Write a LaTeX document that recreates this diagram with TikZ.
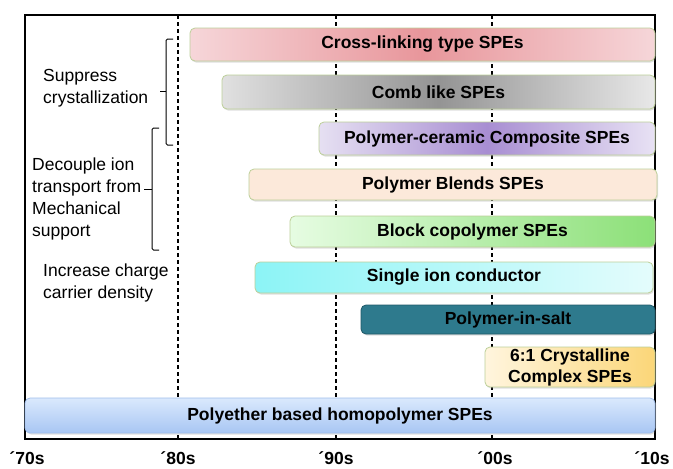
\documentclass[tikz,border=0pt]{standalone}
\usepackage{fontspec}
\setmainfont{Liberation Sans}
\usetikzlibrary{shadows}
\definecolor{barline}{HTML}{BCCF98}
\definecolor{saltfill}{HTML}{2E7A8D}
\definecolor{saltline}{HTML}{1F5868}
\begin{document}
\begin{tikzpicture}[x=1pt, y=-1pt,
  bar/.style={draw=barline, line width=.8pt, rounded corners=5pt, inner sep=0,
    align=center, font=\fontsize{17.5}{21}\selectfont\bfseries,
    drop shadow={shadow xshift=1pt, shadow yshift=-1.5pt, opacity=.25}},
  note/.style={anchor=west, inner sep=0, align=left, font=\fontsize{17.5}{22}\selectfont},
  decade/.style={inner sep=0, font=\fontsize{17.5}{21}\selectfont\bfseries},
  era/.style={line width=1.3pt, dash pattern=on 4pt off 3pt},
  brace/.style={line width=1pt, rounded corners=1.5pt}]
\useasboundingbox (0,0) rectangle (673,469);

% decade lines and frame
\draw[era] (178,15) -- (178,439);
\draw[era] (336,15) -- (336,439);
\draw[era] (492,15) -- (492,439);
\draw[line width=1.2pt] (25,15) rectangle (655,439);

% SPE types
\node[bar, minimum width=465pt, minimum height=33pt, left color={rgb,255:red,246;green,214;blue,217}, right color={rgb,255:red,246;green,214;blue,217}, middle color={rgb,255:red,232;green,150;blue,155}] (xlink) at (422.5,44.5) {Cross-linking type SPEs};
\node[bar, minimum width=433pt, minimum height=34pt, left color=black!12, right color=black!9, middle color=black!42] (comb) at (438.5,92) {Comb like SPEs};
\node[bar, minimum width=336pt, minimum height=33pt, left color={rgb,255:red,230;green,224;blue,242}, right color={rgb,255:red,232;green,226;blue,244}, middle color={rgb,255:red,168;green,142;blue,210}] (ceramic) at (487,138.5) {Polymer-ceramic Composite SPEs};
\node[bar, minimum width=408pt, minimum height=31pt, fill={rgb,255:red,252;green,233;blue,218}] (blend) at (453,184.5) {Polymer Blends SPEs};
\node[bar, minimum width=365pt, minimum height=31pt, left color={rgb,255:red,230;green,252;blue,226}, right color={rgb,255:red,140;green,224;blue,120}] (block) at (472.5,231.5) {Block copolymer SPEs};
\node[bar, minimum width=398pt, minimum height=31pt, left color={rgb,255:red,140;green,244;blue,246}, right color={rgb,255:red,228;green,252;blue,252}] (single) at (454,277.5) {Single ion conductor};
\node[bar, draw=saltline, fill=saltfill, minimum width=294pt, minimum height=29pt] (insalt) at (508,319.5) {Polymer-in-salt};
\node[bar, minimum width=170pt, minimum height=40pt, left color={rgb,255:red,255;green,245;blue,222}, right color={rgb,255:red,251;green,214;blue,120}] (cryst) at (570,367) {6:1 Crystalline\\Complex SPEs};
\node[bar, draw={rgb,255:red,160;green,190;blue,235}, minimum width=630pt, minimum height=35pt, top color={rgb,255:red,218;green,233;blue,253}, bottom color={rgb,255:red,168;green,198;blue,243}] (polyether) at (340,415.5) {Polyether based homopolymer SPEs};

% strategies
\node[note] (suppress) at (43,88) {Suppress\\crystallization};
\node[note] (decouple) at (32,199) {Decouple ion\\transport from\\Mechanical\\support};
\node[note] (increase) at (43,283) {Increase charge\\carrier density};

\draw[brace] (173,39) -- (166,39) -- (166,145) -- (173,145);
\draw[brace] (166,91) -- (160,91);
\draw[brace] (159,128) -- (152,128) -- (152,250) -- (159,250);
\draw[brace] (152,189) -- (144,189);

% time axis
\node[decade] (d70) at (27,458) {´70s};
\node[decade] (d80) at (178,458) {´80s};
\node[decade] (d90) at (336,458) {´90s};
\node[decade] (d00) at (495,458) {´00s};
\node[decade] (d10) at (652,458) {´10s};

\end{tikzpicture}
\end{document}
